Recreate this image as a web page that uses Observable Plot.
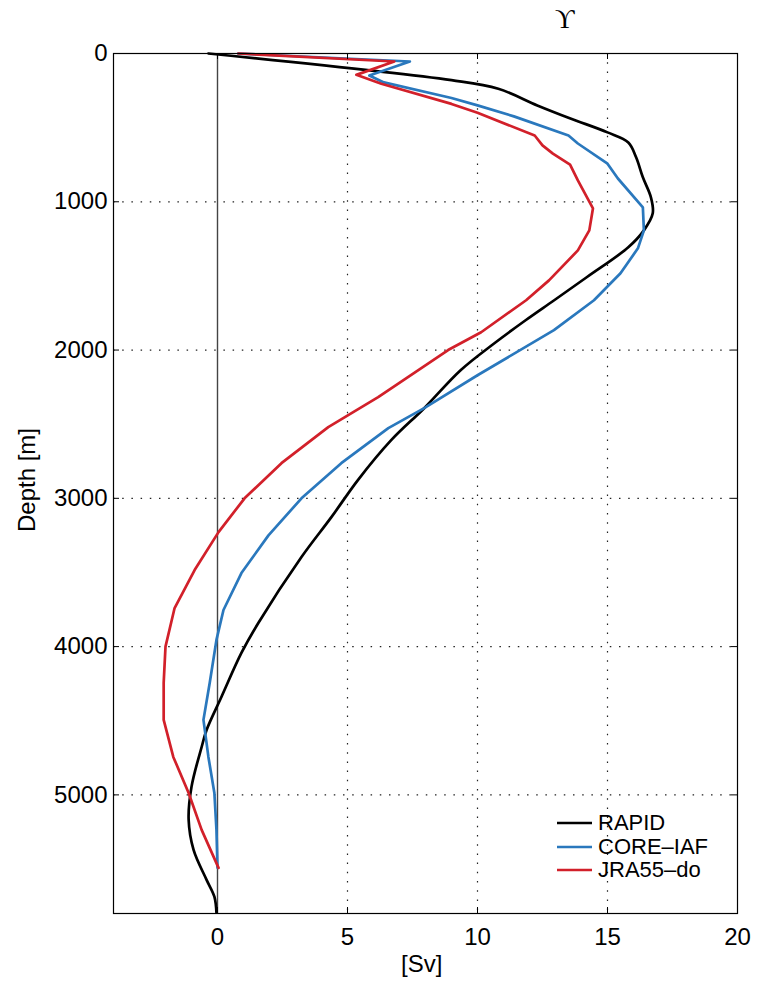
<!DOCTYPE html>
<html>
<head>
<meta charset="utf-8">
<script src="https://cdn.jsdelivr.net/npm/d3@7"></script>
<script src="https://cdn.jsdelivr.net/npm/@observablehq/plot@0.6"></script>
<style>
  body { margin: 0; background: #fff; }
  #wrap { position: relative; width: 757px; height: 981px; font-family: "Liberation Sans", Arial, Helvetica, sans-serif; }
  #wrap svg { position: absolute; left: 0; top: 0; }
  .lab { position: absolute; font-size: 24px; color: #000; white-space: nowrap; line-height: 1; }
</style>
</head>
<body>
<div id="wrap"></div>
<script>
// ---- data (depth in m, transport in Sv) ----
const xTicks = [0, 5, 10, 15, 20];
const yTicks = [0, 1000, 2000, 3000, 4000, 5000];
const seriesNames = ["RAPID", "CORE\u2013IAF", "JRA55\u2013do"];
const seriesColors = ["#000000", "#2a78bd", "#d2202a"];

const rapidDepth = [0, 180, 238, 350, 440, 532, 600, 700, 835, 970, 1078, 1193, 1307, 1509, 1664, 1799, 1954, 2136, 2392, 2608, 2877, 3127, 3396, 3841, 4043, 4340, 4562, 4677, 4946, 5168, 5371, 5573, 5687, 5795];
const rapidSv    = [-0.35, 9.0, 10.8, 12.3, 13.6, 15.0, 15.8, 16.1, 16.36, 16.67, 16.74, 16.4, 15.8, 14.2, 12.95, 11.85, 10.65, 9.35, 7.95, 6.68, 5.4, 4.38, 3.23, 1.57, 0.92, 0.15, -0.42, -0.61, -1.0, -1.11, -0.92, -0.42, -0.12, -0.04];

const coreDepth = [0, 54, 148, 195, 300, 350, 424, 553, 607, 743, 843, 1037, 1193, 1314, 1482, 1664, 1866, 2170, 2392, 2527, 2763, 3000, 3250, 3504, 3753, 3955, 4245, 4494, 4744, 4987, 5236, 5492];
const coreSv    = [0.8, 7.4, 5.84, 6.4, 9.0, 10.0, 11.4, 13.5, 13.86, 15.0, 15.4, 16.36, 16.4, 16.17, 15.5, 14.48, 12.94, 10.0, 7.95, 6.57, 4.76, 3.23, 1.96, 0.92, 0.23, -0.04, -0.3, -0.54, -0.35, -0.12, -0.04, 0.0];

const jraDepth = [0, 54, 144, 204, 340, 400, 553, 620, 675, 750, 856, 1045, 1193, 1328, 1530, 1664, 1880, 2000, 2318, 2520, 2763, 3000, 3228, 3484, 3740, 4000, 4245, 4494, 4744, 4987, 5236, 5492];
const jraSv    = [0.8, 6.8, 5.34, 6.3, 9.0, 10.0, 12.2, 12.5, 12.9, 13.56, 13.86, 14.44, 14.3, 13.86, 12.75, 11.87, 10.14, 8.87, 6.18, 4.26, 2.46, 1.04, 0.04, -0.88, -1.65, -2.0, -2.07, -2.07, -1.7, -1.11, -0.61, 0.04];

const toRows = (depths, vals) => depths.map((d, i) => ({depth: d, sv: vals[i]}));
const rapid = toRows(rapidDepth, rapidSv);
const core = toRows(coreDepth, coreSv);
const jra = toRows(jraDepth, jraSv);

// ---- layout ----
const W = 757, H = 981;
const mL = 113, mR = 20, mT = 53, mB = 68;
const pW = W - mL - mR, pH = H - mT - mB;
const tick = 6;
const dots = "1.5,7.7";

const chart = Plot.plot({
  width: W,
  height: H,
  marginLeft: mL,
  marginRight: mR,
  marginTop: mT,
  marginBottom: mB,
  style: {fontFamily: '"Liberation Sans", Arial, Helvetica, sans-serif', fontSize: "24px", color: "#000", background: "#fff"},
  x: {domain: [-4, 20]},
  y: {domain: [0, 5800], reverse: true},
  marks: [
    Plot.ruleX(xTicks.filter(v => v > 0 && v < 20), {stroke: "#222", strokeDasharray: dots, strokeWidth: 1.2}),
    Plot.ruleY(yTicks.filter(v => v > 0), {stroke: "#222", strokeDasharray: dots, strokeWidth: 1.2}),
    Plot.ruleX([0], {stroke: "#444", strokeWidth: 1.4}),
    Plot.line(rapid, {x: "sv", y: "depth", stroke: seriesColors[0], strokeWidth: 2.7, curve: "catmull-rom"}),
    Plot.line(core, {x: "sv", y: "depth", stroke: seriesColors[1], strokeWidth: 2.7}),
    Plot.line(jra, {x: "sv", y: "depth", stroke: seriesColors[2], strokeWidth: 2.7}),
    Plot.tickX(xTicks, {x: d => d, insetTop: pH - tick, stroke: "#000"}),
    Plot.tickX(xTicks, {x: d => d, insetBottom: pH - tick, stroke: "#000"}),
    Plot.tickY(yTicks, {y: d => d, insetRight: pW - tick, stroke: "#000"}),
    Plot.tickY(yTicks, {y: d => d, insetLeft: pW - tick, stroke: "#000"}),
    Plot.frame({stroke: "#000", strokeWidth: 1.2}),
    Plot.axisX(xTicks, {tickSize: 0, tickPadding: 14, label: null, fontSize: 24}),
    Plot.axisY(yTicks, {tickSize: 0, tickPadding: 6, label: null, fontSize: 24, tickFormat: d => String(d)})
  ]
});

const wrap = document.getElementById("wrap");
wrap.appendChild(chart);

function addLabel(text, css) {
  const el = document.createElement("div");
  el.className = "lab";
  el.textContent = text;
  Object.assign(el.style, css);
  wrap.appendChild(el);
  return el;
}

// title symbol
addLabel("\u03D2", {left: "555px", top: "6px", fontFamily: '"Liberation Serif", "DejaVu Serif", serif', fontSize: "27px"});
// x label
addLabel("[Sv]", {left: (mL + pW / 2 - 24) + "px", top: "952px"});
// y label
addLabel("Depth [m]", {left: "27px", top: "480px", transform: "translate(-50%, -50%) rotate(-90deg)"});

// legend
seriesNames.forEach((name, i) => {
  const row = document.createElement("div");
  row.style.position = "absolute";
  row.style.left = "557px";
  row.style.top = (812 + i * 23.5) + "px";
  row.style.display = "flex";
  row.style.alignItems = "center";
  row.style.height = "22px";
  const sw = document.createElementNS("http://www.w3.org/2000/svg", "svg");
  sw.setAttribute("width", "35");
  sw.setAttribute("height", "6");
  sw.style.position = "static";
  const ln = document.createElementNS("http://www.w3.org/2000/svg", "line");
  ln.setAttribute("x1", "0"); ln.setAttribute("x2", "35");
  ln.setAttribute("y1", "3"); ln.setAttribute("y2", "3");
  ln.setAttribute("stroke", seriesColors[i]);
  ln.setAttribute("stroke-width", "2.7");
  sw.appendChild(ln);
  const tx = document.createElement("span");
  tx.textContent = name;
  tx.style.fontSize = "22px";
  tx.style.marginLeft = "6px";
  tx.style.lineHeight = "1";
  row.appendChild(sw);
  row.appendChild(tx);
  wrap.appendChild(row);
});
</script>
</body>
</html>
